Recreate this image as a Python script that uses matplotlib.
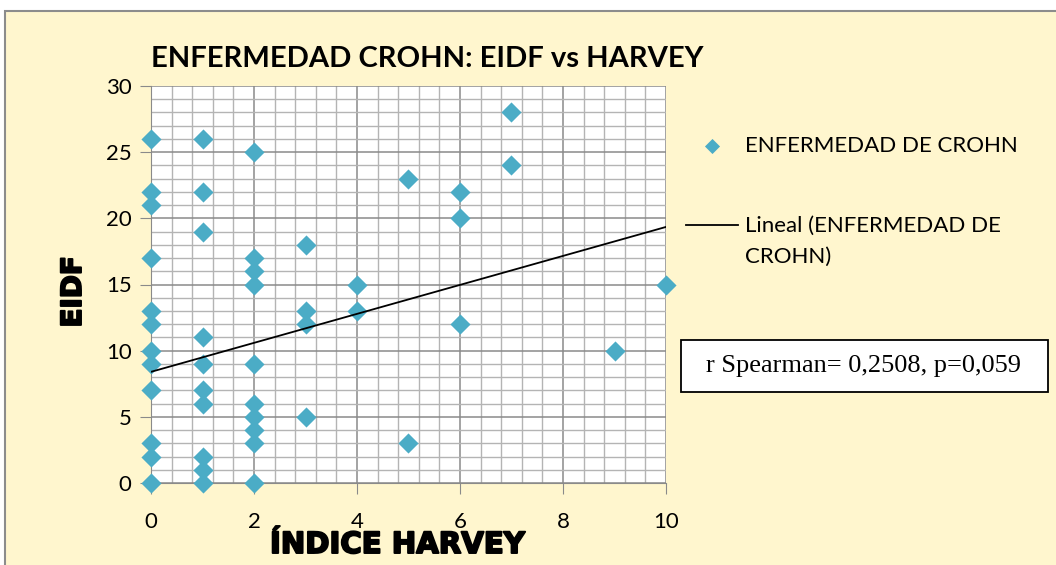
import numpy as np
import matplotlib
matplotlib.use("Agg")
import matplotlib.pyplot as plt
import matplotlib.patheffects as pe
from matplotlib.patches import Rectangle
from matplotlib.ticker import MultipleLocator

# ---- data ----
harvey = [0] * 12 + [1] * 10 + [2] * 10 + [3] * 4 + [4] * 2 + [5] * 2 + [6] * 3 + [7] * 2 + [9, 10]
eidf = ([26, 22, 21, 17, 13, 12, 10, 9, 7, 3, 2, 0] +
        [26, 22, 19, 11, 9, 7, 6, 2, 1, 0] +
        [25, 17, 16, 15, 9, 6, 5, 4, 3, 0] +
        [18, 13, 12, 5] +
        [15, 13] +
        [23, 3] +
        [22, 20, 12] +
        [28, 24] +
        [10, 15])
# linear trend as drawn in the original
trend_x = [0, 10]
trend_y = [8.4, 19.35]

series_name = "ENFERMEDAD DE CROHN"
trend_name = "Lineal (ENFERMEDAD DE\nCROHN)"
title = "ENFERMEDAD CROHN: EIDF vs HARVEY"
stats_text = "r Spearman= 0,2508, p=0,059"

BG = "#FFF6CE"
MARKER = "#4BACC6"
SANS = ["Lato", "DejaVu Sans"]
HEAVY = ["DejaVu Sans"]
thick = [pe.withStroke(linewidth=1.4, foreground="black")]

W, H = 1056, 565
fig = plt.figure(figsize=(W / 100, H / 100), dpi=100)
fig.patch.set_facecolor("white")

# chart area (yellow with grey border, cut on right/bottom)
fig.patches.append(Rectangle((5 / W, -0.05), 1.2, (H - 10.5) / H + 0.05,
                             transform=fig.transFigure, facecolor=BG,
                             edgecolor="#8C8C8C", linewidth=1.5, zorder=-10))

ax = fig.add_axes([151 / W, (H - 483) / H, (666 - 151) / W, (483 - 86) / H])
ax.set_facecolor("white")

ax.scatter(harvey, eidf, marker="D", s=105, color=MARKER, zorder=3, clip_on=False,
           label=series_name, linewidths=0)
ax.plot(trend_x, trend_y, color="black", linewidth=1.3, zorder=4, label=trend_name)

ax.set_xlim(0, 10)
ax.set_ylim(0, 30)
ax.xaxis.set_major_locator(MultipleLocator(2))
ax.xaxis.set_minor_locator(MultipleLocator(0.4))
ax.yaxis.set_major_locator(MultipleLocator(5))
ax.yaxis.set_minor_locator(MultipleLocator(1))
ax.grid(which="major", color="#8A8A8A", linewidth=1.1, zorder=1)
ax.grid(which="minor", color="#B4B4B4", linewidth=1.0, zorder=1)
ax.set_axisbelow(True)

for side in ["top", "right"]:
    ax.spines[side].set_visible(False)
ax.spines["left"].set_color("#8A8A8A")
ax.spines["bottom"].set_color("#8A8A8A")
ax.tick_params(which="minor", length=0)
ax.tick_params(which="major", length=8, color="#8A8A8A", labelsize=16, pad=6)
ax.tick_params(axis="x", pad=13)
for lbl in ax.get_xticklabels() + ax.get_yticklabels():
    lbl.set_family(SANS)

ax.set_title(title, fontsize=21, fontweight="bold", family=SANS, loc="left",
             x=0.0, pad=14)
ax.set_xlabel("ÍNDICE HARVEY", fontsize=21, fontweight="bold", family=HEAVY,
              path_effects=thick)
ax.set_ylabel("EIDF", fontsize=20, fontweight="bold", family=HEAVY,
              path_effects=thick)
ax.xaxis.set_label_coords((397 - 151) / 515, (483 - 545) / 397)
ax.yaxis.set_label_coords((73 - 151) / 515, (483 - 292) / 397)
ax.xaxis.label.set_va("center")
ax.yaxis.label.set_va("center")

leg = ax.legend(loc="upper left", bbox_to_anchor=((686 - 151) / 515, (483 - 136) / 397),
                frameon=False, prop={"family": SANS, "size": 16}, handlelength=2.35,
                labelspacing=2.7, handletextpad=0.3, borderpad=0, borderaxespad=0,
                markerscale=0.75)
leg.get_texts()[1].set_linespacing(1.65)
# Excel puts the trendline handle level with the first line of its label
trend_handle = leg.legend_handles[1]
trend_handle.set_ydata(np.asarray(trend_handle.get_ydata()) + 11.5)

# statistics box
fig.patches.append(Rectangle((681 / W, 1 - 392 / H), (1048 - 681) / W, 52 / H,
                             transform=fig.transFigure, facecolor="white",
                             edgecolor="black", linewidth=1.3, zorder=5))
fig.text(864 / W, 1 - 366 / H, stats_text, ha="center", va="center",
         fontsize=19, family=["Liberation Serif", "DejaVu Serif"], zorder=6)

fig.savefig("out.png", dpi=100, facecolor=fig.get_facecolor())
